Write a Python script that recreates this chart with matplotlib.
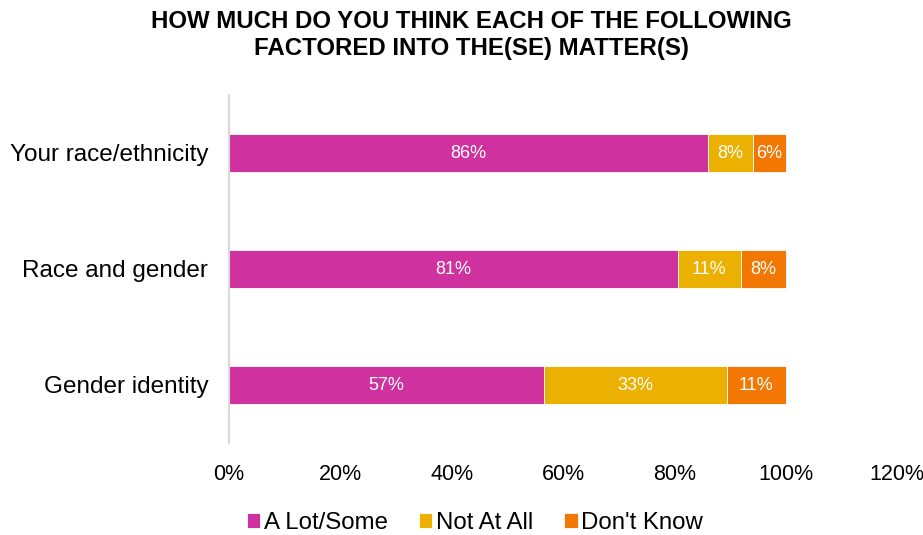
import matplotlib
matplotlib.use("Agg")
import matplotlib.pyplot as plt
import numpy as np

categories = ["Your race/ethnicity", "Race and gender", "Gender identity"]
series_names = ["A Lot/Some", "Not At All", "Don't Know"]
a_lot_some = [86.0, 80.6, 56.6]
not_at_all = [8.1, 11.3, 32.8]
dont_know = [5.9, 8.1, 10.6]
colors = ["#CF329F", "#EBB000", "#F37803"]
x_ticks = [0, 20, 40, 60, 80, 100, 120]

regular = ["Liberation Sans", "DejaVu Sans"]

fig = plt.figure(figsize=(9.23, 5.35), dpi=100)
ax = fig.add_axes([229 / 923, 1 - 443 / 535, 668 / 923, 348 / 535])

y = np.arange(len(categories))
left = np.zeros(len(categories))
for name, vals, col in zip(series_names, [a_lot_some, not_at_all, dont_know], colors):
    vals = np.array(vals)
    ax.barh(y, vals, left=left, height=0.335, color=col, label=name,
            edgecolor="white", linewidth=0.6)
    for yi, l, v in zip(y, left, vals):
        ax.text(l + v / 2, yi, f"{v:.0f}%", ha="center", va="center",
                color="white", fontsize=13, family=regular)
    left = left + vals

ax.set_xlim(0, 120)
ax.set_ylim(2.5, -0.5)
ax.set_xticks(x_ticks)
ax.set_xticklabels([f"{t}%" for t in x_ticks], fontsize=15.5, family=regular)
ax.set_yticks(y)
ax.set_yticklabels(categories, fontsize=17.5, family=regular)
ax.tick_params(axis="both", length=0, colors="black")
ax.tick_params(axis="y", pad=15)
ax.tick_params(axis="x", pad=15)
for s in ["top", "right", "bottom"]:
    ax.spines[s].set_visible(False)
ax.spines["left"].set_color("#D9D9D9")
ax.spines["left"].set_linewidth(1.5)

fig.text(471 / 923, 1 - 35 / 535,
         "HOW MUCH DO YOU THINK EACH OF THE FOLLOWING\nFACTORED INTO THE(SE) MATTER(S)",
         ha="center", va="center", fontsize=17.3, fontweight="bold",
         family=regular, linespacing=1.25)

fig.legend(loc="center", bbox_to_anchor=(475 / 923, 1 - 523 / 535), ncol=3,
           frameon=False, prop={"family": regular, "size": 17.3},
           handlelength=0.55, handleheight=0.55, handletextpad=0.15,
           columnspacing=1.3)

fig.savefig("out.png", dpi=100)
